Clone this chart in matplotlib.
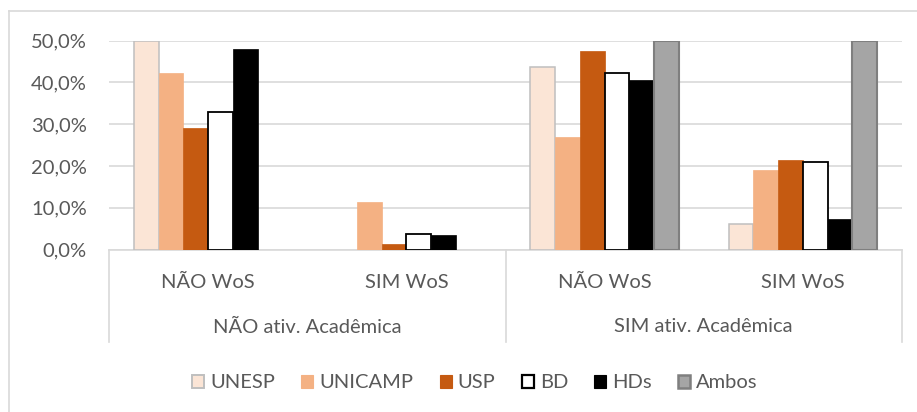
import numpy as np
import matplotlib
matplotlib.use("Agg")
import matplotlib.pyplot as plt
from matplotlib.patches import Patch
from matplotlib.lines import Line2D

# dados (%)
grupos = ["NÃO ativ. Acadêmica", "SIM ativ. Acadêmica"]
subgrupos = ["NÃO WoS", "SIM WoS", "NÃO WoS", "SIM WoS"]
series = ["UNESP", "UNICAMP", "USP", "BD", "HDs", "Ambos"]

unesp = [50.0, 0.0, 43.8, 6.2]
unicamp = [42.3, 11.4, 26.9, 19.0]
usp = [29.2, 1.4, 47.6, 21.4]
bd = [32.9, 3.8, 42.2, 21.0]
hds = [48.0, 3.4, 40.6, 7.3]
ambos = [0.0, 0.0, 50.0, 50.0]

valores = [unesp, unicamp, usp, bd, hds, ambos]
cores = ["#FBE5D6", "#F4B183", "#C55A11", "#FFFFFF", "#000000", "#A5A5A5"]
bordas = ["#BFBFBF", "#F4B183", "#C55A11", "#000000", "#000000", "#7F7F7F"]
larg_borda = [1.1, 0.5, 0.5, 1.3, 0.5, 1.5]

TXT = "#595959"
GRID = "#D9D9D9"
FS = 14.5

plt.rcParams['font.family'] = ['Lato', 'DejaVu Sans']

W, H = 917, 412
fig = plt.figure(figsize=(W / 100, H / 100), dpi=100)
x0, x1, y0, y1 = 109, 902, 249.5, 40.7
ax = fig.add_axes([x0 / W, 1 - y0 / H, (x1 - x0) / W, (y0 - y1) / H])

x = np.arange(len(subgrupos))
w = 0.125
for i, s in enumerate(series):
    barras = ax.bar(x + (i - 2.5) * w, valores[i], w, color=cores[i], edgecolor=bordas[i],
                    linewidth=larg_borda[i], label=s, zorder=3)
    for b, v in zip(barras, valores[i]):
        if v == 0:
            b.set_linewidth(0)

ax.set_xlim(-0.5, 3.5)
ax.set_ylim(0, 50)
ax.set_yticks([0, 10, 20, 30, 40, 50])
ax.set_yticklabels([("%.1f%%" % v).replace(".", ",") for v in [0, 10, 20, 30, 40, 50]],
                   color=TXT, fontsize=FS)
ax.tick_params(axis='y', length=0, pad=16)
ax.set_xticks([])
ax.yaxis.grid(True, color=GRID, linewidth=1.2, zorder=0)
ax.set_axisbelow(True)
for k in ["left", "right", "top"]:
    ax.spines[k].set_visible(False)
ax.spines["bottom"].set_color(GRID)
ax.spines["bottom"].set_linewidth(1.2)

# eixo de categorias em dois niveis
trans = ax.get_xaxis_transform()
h_ax = y0 - y1
y_sub = -(282 - y0) / h_ax
y_top = -(327 - y0) / h_ax
y_fim = -(342 - y0) / h_ax
for i, s in enumerate(subgrupos):
    ax.text(x[i], y_sub, s, transform=trans, ha='center', va='center', color=TXT, fontsize=FS)
for j, g in enumerate(grupos):
    ax.text(0.5 + 2 * j, y_top, g, transform=trans, ha='center', va='center', color=TXT, fontsize=FS)
for xv in [-0.5, 1.5, 3.5]:
    ax.plot([xv, xv], [0, y_fim], transform=trans, color=GRID, linewidth=1.2, clip_on=False)

handles = [Patch(facecolor=cores[i], edgecolor=bordas[i], linewidth=larg_borda[i] + 0.3, label=s)
           for i, s in enumerate(series)]
fig.legend(handles=handles, loc='center', bbox_to_anchor=(475 / W, 1 - 383 / H), ncol=6,
           frameon=False, fontsize=FS, labelcolor=TXT, handlelength=0.6, handleheight=0.6,
           handletextpad=0.3, columnspacing=1.3, borderaxespad=0)

# borda da area do grafico
fig.add_artist(Line2D([9 / W, 9 / W], [0, 1 - 11 / H], color=GRID, linewidth=1.2))
fig.add_artist(Line2D([9 / W, 1], [1 - 11 / H, 1 - 11 / H], color=GRID, linewidth=1.2))

fig.savefig("out.png", dpi=100)
